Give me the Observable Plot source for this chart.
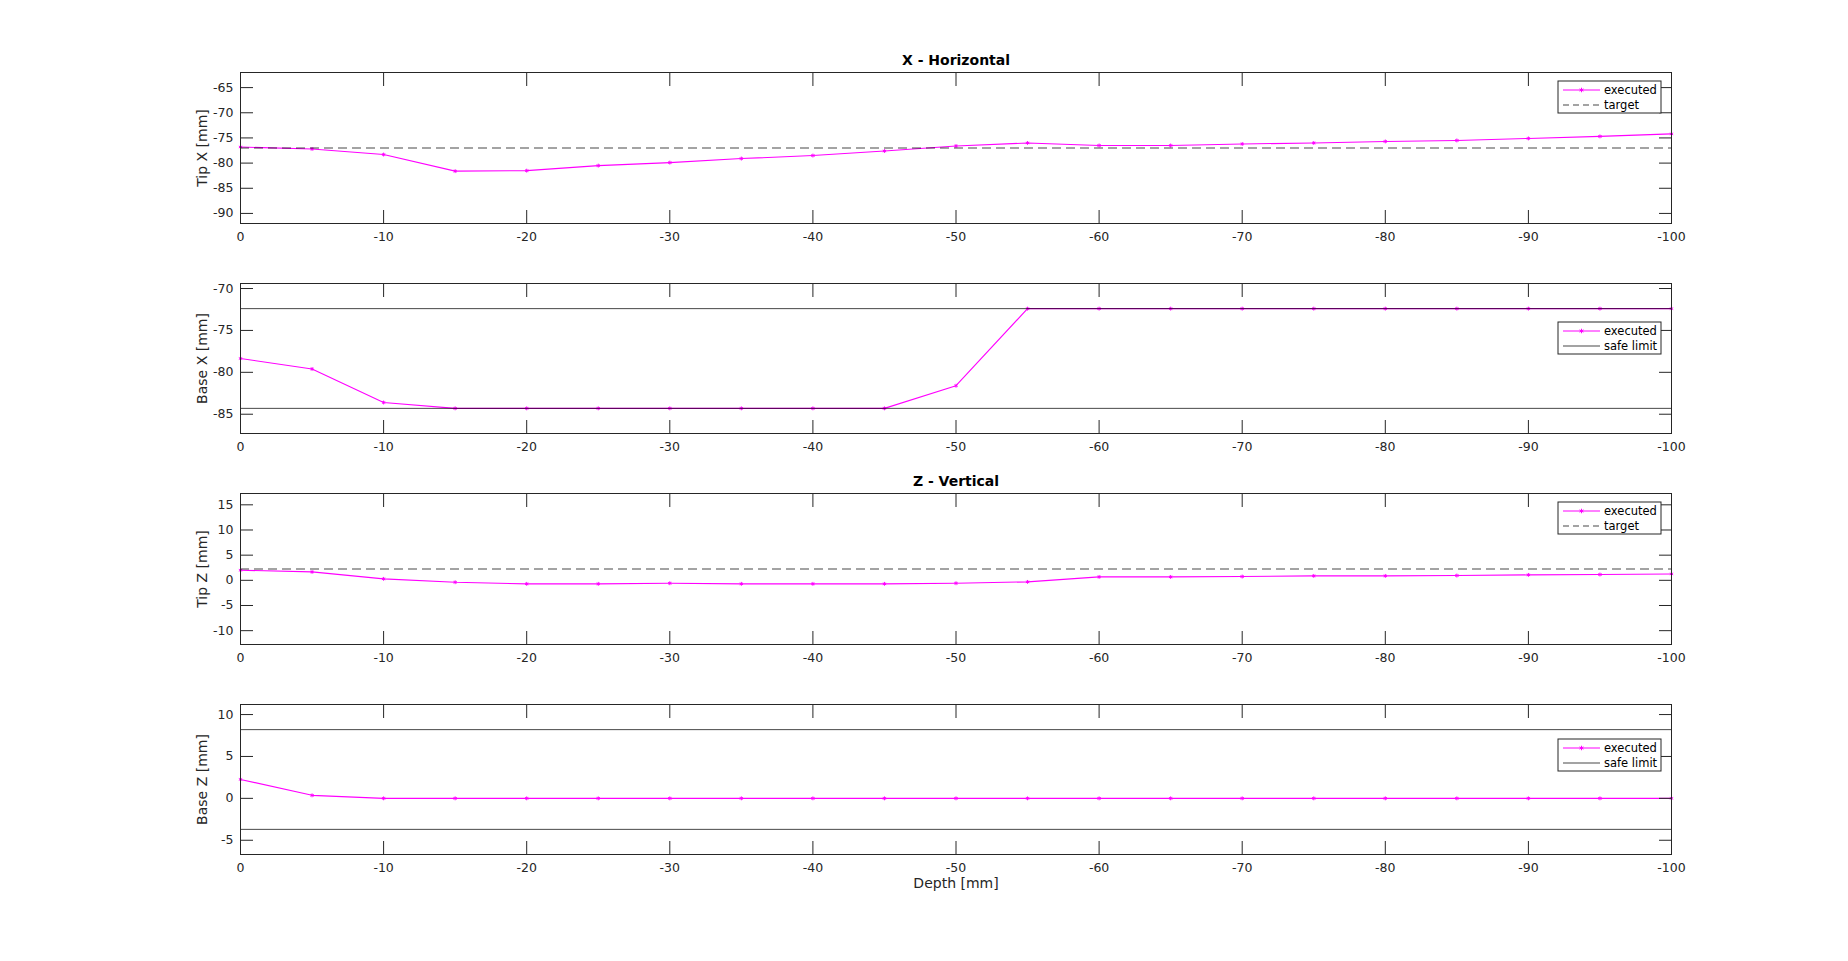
<!DOCTYPE html>
<html>
<head>
<meta charset="utf-8">
<script src="https://cdn.jsdelivr.net/npm/d3@7"></script>
<script src="https://cdn.jsdelivr.net/npm/@observablehq/plot@0.6"></script>
<style>
html, body { margin: 0; padding: 0; background: #fff; }
#fig { position: relative; width: 1848px; height: 961px; background: #fff; font-family: "DejaVu Sans", sans-serif; }
#fig svg { position: absolute; left: 0; }
</style>
</head>
<body>
<div id="fig"></div>
<script>
// ---------- data ----------
const depth = [0, -5, -10, -15, -20, -25, -30, -35, -40, -45, -50, -55, -60, -65, -70, -75, -80, -85, -90, -95, -100];
const xTicks = [0, -10, -20, -30, -40, -50, -60, -70, -80, -90, -100];

const tipX = [-76.8, -77.2, -78.3, -81.6, -81.5, -80.5, -79.9, -79.1, -78.5, -77.6, -76.6, -76.0, -76.5, -76.5, -76.2, -76.0, -75.7, -75.5, -75.1, -74.7, -74.2];
const tipXTarget = [-77];
const tipXTicks = [-90, -85, -80, -75, -70, -65];
const tipXDomain = [-92, -62];

const baseX = [-78.35, -79.6, -83.6, -84.3, -84.3, -84.3, -84.3, -84.3, -84.3, -84.3, -81.6, -72.4, -72.4, -72.4, -72.4, -72.4, -72.4, -72.4, -72.4, -72.4, -72.4];
const baseXLimits = [-84.3, -72.4];
const baseXTicks = [-85, -80, -75, -70];
const baseXDomain = [-87.3, -69.4];

const tipZ = [2.0, 1.67, 0.29, -0.38, -0.7, -0.7, -0.58, -0.7, -0.7, -0.7, -0.58, -0.31, 0.68, 0.68, 0.75, 0.88, 0.88, 0.95, 1.08, 1.15, 1.27];
const tipZTarget = [2.25];
const tipZTicks = [-10, -5, 0, 5, 10, 15];
const tipZDomain = [-12.75, 17.25];

const baseZ = [2.26, 0.36, 0, 0, 0, 0, 0, 0, 0, 0, 0, 0, 0, 0, 0, 0, 0, 0, 0, 0, 0];
const baseZLimits = [-3.7, 8.2];
const baseZTicks = [-5, 0, 5, 10];
const baseZDomain = [-6.7, 11.2];

// ---------- layout ----------
const W = 1848, ML = 240, MR = 177;
const MAGENTA = "#ff00ff", AX = "#262626";
const fmt = d => String(d);
const fig = document.getElementById("fig");

function makePanel(cfg) {
  const data = depth.map((d, i) => ({depth: d, value: cfg.values[i]}));
  const refs = cfg.refs.map(v => ({value: v}));
  const height = cfg.marginTop + cfg.frameH + cfg.marginBottom;
  const marks = [
    Plot.line(data, {x: "depth", y: "value", stroke: MAGENTA, strokeWidth: 1.1}),
    Plot.dot(data, {x: "depth", y: "value", symbol: "asterisk", r: 1.8, stroke: MAGENTA, strokeWidth: 1}),
    Plot.ruleY(refs, {y: "value", stroke: "#000", strokeOpacity: 0.72, strokeWidth: 1, strokeDasharray: cfg.dashed ? "9,5" : null}),
    Plot.frame({stroke: AX, strokeWidth: 1}),
    Plot.axisX(xTicks, {anchor: "bottom", tickSize: -13, fill: "none", label: null, stroke: AX}),
    Plot.axisX(xTicks, {anchor: "top", tickSize: -13, fill: "none", label: null, stroke: AX}),
    Plot.axisY(cfg.yTicks, {anchor: "left", tickSize: -13, fill: "none", label: null, stroke: AX}),
    Plot.axisY(cfg.yTicks, {anchor: "right", tickSize: -13, fill: "none", label: null, stroke: AX}),
    Plot.axisX(xTicks, {anchor: "bottom", tickSize: 0, tickPadding: 9, tickFormat: fmt, label: null, fontSize: 12.5, fill: AX}),
    Plot.axisY(cfg.yTicks, {anchor: "left", tickSize: 0, tickPadding: 7, tickFormat: fmt, label: null, fontSize: 12.5, fill: AX}),
    Plot.text([cfg.yLabel], {frameAnchor: "left", textAnchor: "middle", rotate: -90, dx: -38, fontSize: 14, fill: AX, lineAnchor: "middle"})
  ];
  if (cfg.title) marks.push(Plot.text([cfg.title], {frameAnchor: "top", textAnchor: "middle", dy: -12, fontSize: 14, fontWeight: "bold", fill: "#000", lineAnchor: "middle"}));
  if (cfg.xLabel) marks.push(Plot.text([cfg.xLabel], {frameAnchor: "bottom", textAnchor: "middle", dy: 29, fontSize: 14, fill: AX, lineAnchor: "middle"}));

  const svg = Plot.plot({
    width: W,
    height,
    marginLeft: ML,
    marginRight: MR,
    marginTop: cfg.marginTop,
    marginBottom: cfg.marginBottom,
    x: {domain: [0, -100]},
    y: {domain: cfg.yDomain},
    style: {background: "transparent", fontFamily: "DejaVu Sans, sans-serif", fontSize: "12px", color: AX, overflow: "visible"},
    marks
  });
  svg.style.top = (cfg.frameTop - cfg.marginTop) + "px";
  fig.appendChild(svg);

  // legend (inside plot area, like the original)
  const bw = 103, bh = 32;
  const bx = W - MR - 10 - bw;
  const by = cfg.marginTop + cfg.legendTop;
  const g = d3.select(svg).append("g")
    .attr("font-family", "DejaVu Sans, sans-serif").attr("font-size", 11.5).attr("text-anchor", "start");
  g.append("rect").attr("x", bx).attr("y", by).attr("width", bw).attr("height", bh)
    .attr("fill", "#fff").attr("stroke", AX).attr("stroke-width", 1);
  const entries = [
    {name: "executed", stroke: MAGENTA, opacity: 1, dash: null, marker: true},
    {name: cfg.refName, stroke: "#000", opacity: 0.72, dash: cfg.dashed ? "6,4" : null, marker: false}
  ];
  entries.forEach((e, i) => {
    const ey = by + 9 + i * 15;
    g.append("line").attr("x1", bx + 5).attr("x2", bx + 42).attr("y1", ey).attr("y2", ey)
      .attr("stroke", e.stroke).attr("stroke-opacity", e.opacity).attr("stroke-width", 1)
      .attr("stroke-dasharray", e.dash);
    if (e.marker) {
      const mx = bx + 23.5;
      g.append("path").attr("d", d3.symbol(d3.symbolAsterisk, 14)())
        .attr("transform", `translate(${mx},${ey})`).attr("stroke", MAGENTA).attr("fill", "none");
    }
    g.append("text").attr("x", bx + 46).attr("y", ey).attr("dy", "0.35em")
      .attr("text-anchor", "start").attr("fill", "#000").text(e.name);
  });
}

makePanel({values: tipX, refs: tipXTarget, dashed: true, refName: "target", yTicks: tipXTicks, yDomain: tipXDomain,
  yLabel: "Tip X [mm]", title: "X - Horizontal", frameTop: 72, frameH: 151, marginTop: 40, marginBottom: 35, legendTop: 9});
makePanel({values: baseX, refs: baseXLimits, dashed: false, refName: "safe limit", yTicks: baseXTicks, yDomain: baseXDomain,
  yLabel: "Base X [mm]", frameTop: 283, frameH: 150, marginTop: 20, marginBottom: 35, legendTop: 39});
makePanel({values: tipZ, refs: tipZTarget, dashed: true, refName: "target", yTicks: tipZTicks, yDomain: tipZDomain,
  yLabel: "Tip Z [mm]", title: "Z - Vertical", frameTop: 493, frameH: 151, marginTop: 25, marginBottom: 35, legendTop: 9});
makePanel({values: baseZ, refs: baseZLimits, dashed: false, refName: "safe limit", yTicks: baseZTicks, yDomain: baseZDomain,
  yLabel: "Base Z [mm]", xLabel: "Depth [mm]", frameTop: 704, frameH: 150, marginTop: 25, marginBottom: 50, legendTop: 35});
</script>
</body>
</html>
